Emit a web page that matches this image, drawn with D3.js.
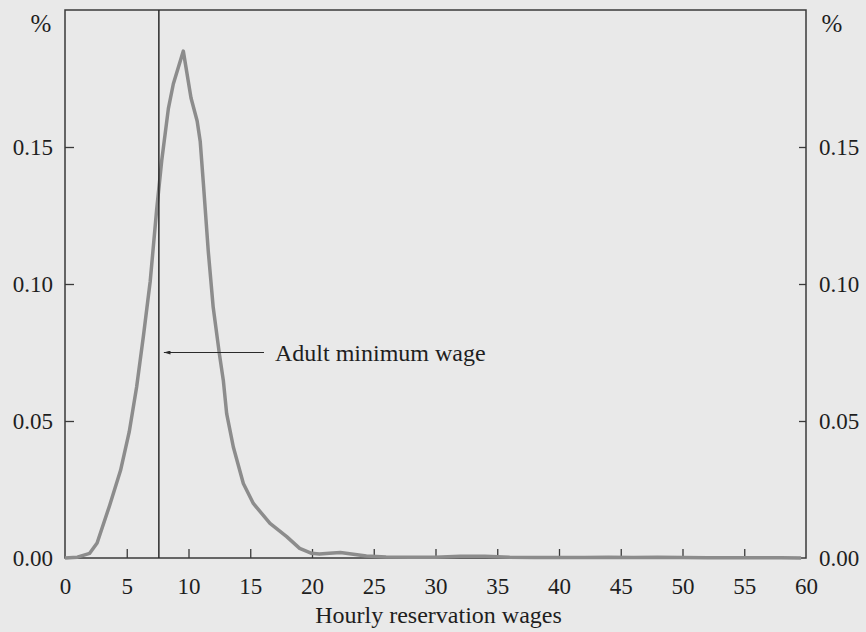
<!DOCTYPE html>
<html>
<head>
<meta charset="utf-8">
<script src="https://cdn.jsdelivr.net/npm/d3@7"></script>
<style>
  body { margin: 0; background: #e9e9e9; }
  svg { display: block; }
  text { font-family: "Liberation Serif", "Times New Roman", serif; fill: #1e1e1e; }
</style>
</head>
<body>
<div id="chart"></div>
<script>
// density of hourly reservation wages
const wage = [0, 1, 2.0, 2.6, 3.6, 4.5, 5.2, 5.8, 6.35, 6.9, 7.42, 7.83, 8.37, 8.77, 9.58, 10.2,
  10.7, 10.95, 11.2, 11.6, 12.0, 12.5, 12.82, 13.09, 13.63, 14.44, 15.25, 16.6, 17.95, 19.0, 19.97,
  20.6, 21.4, 22.3, 23.5, 24.4, 26, 28, 30, 32, 34, 36, 38, 40, 42, 44, 46, 48, 50, 52, 54, 56, 58, 59.6]
const density = [0, 0.0003, 0.0017, 0.0055, 0.019, 0.032, 0.046, 0.0624, 0.081, 0.101, 0.127, 0.145, 0.164, 0.173, 0.185, 0.168,
  0.1595, 0.152, 0.137, 0.112, 0.0915, 0.0745, 0.0648, 0.0527, 0.0405, 0.0272, 0.0199, 0.0126, 0.0078, 0.0035, 0.0017,
  0.0015, 0.0017, 0.002, 0.0013, 0.0007, 0.0004, 0.0003, 0.0003, 0.0006, 0.0006, 0.0003, 0.0002, 0.0002, 0.0002, 0.0003, 0.0002, 0.0003, 0.0002, 0.0001, 0.0001, 0.0001, 0.0001, 0]

const xTicks = [0, 5, 10, 15, 20, 25, 30, 35, 40, 45, 50, 55, 60]
const yTicks = [0, 0.05, 0.10, 0.15]
const minWage = 7.6

const W = 866, H = 632
const M = { top: 10, right: 60, bottom: 74, left: 65 }
const AXIS = "#3a3a3a"
const FONT = "23px"

const svg = d3.select("#chart").append("svg")
  .attr("width", W)
  .attr("height", H)

svg.append("rect")
  .attr("width", W)
  .attr("height", H)
  .attr("fill", "#e9e9e9")

const x = d3.scaleLinear().domain([0, 60]).range([M.left, W - M.right])
const y = d3.scaleLinear().domain([0, 0.2]).range([H - M.bottom, M.top])

// frame
svg.append("rect")
  .attr("x", x(0))
  .attr("y", y(0.2))
  .attr("width", x(60) - x(0))
  .attr("height", y(0) - y(0.2))
  .attr("fill", "none")
  .attr("stroke", AXIS)
  .attr("stroke-width", 1.5)

// axes, ticks pointing inwards
const fmt = d3.format(".2f")
const bottom = svg.append("g")
  .attr("transform", "translate(0," + y(0) + ")")
  .call(d3.axisBottom(x).tickValues(xTicks).tickSizeInner(-9).tickSizeOuter(0).tickPadding(20))
const left = svg.append("g")
  .attr("transform", "translate(" + x(0) + ",0)")
  .call(d3.axisLeft(y).tickValues(yTicks).tickFormat(fmt).tickSizeInner(-9).tickSizeOuter(0).tickPadding(12))
const right = svg.append("g")
  .attr("transform", "translate(" + x(60) + ",0)")
  .call(d3.axisRight(y).tickValues(yTicks).tickFormat(fmt).tickSizeInner(-7).tickSizeOuter(0).tickPadding(13))

;[bottom, left, right].forEach(g => {
  g.select(".domain").remove()
  g.selectAll(".tick line").attr("stroke", AXIS).attr("stroke-width", 1.3)
  g.selectAll(".tick text")
    .style("font-family", '"Liberation Serif", serif')
    .style("font-size", FONT)
    .attr("fill", "#1e1e1e")
})
// the x=0 and x=60 ticks sit on the frame
bottom.selectAll(".tick line").filter(d => d === 0 || d === 60).remove()
left.selectAll(".tick line").filter(d => d === 0).remove()
right.selectAll(".tick line").filter(d => d === 0).remove()

svg.append("text")
  .attr("x", 41)
  .attr("y", 32)
  .attr("text-anchor", "middle")
  .style("font-size", "25px")
  .text("%")
svg.append("text")
  .attr("x", 832)
  .attr("y", 32)
  .attr("text-anchor", "middle")
  .style("font-size", "25px")
  .text("%")

svg.append("text")
  .attr("x", (x(0) + x(60)) / 2 + 3)
  .attr("y", 623)
  .attr("text-anchor", "middle")
  .style("font-size", "24px")
  .text("Hourly reservation wages")

// density curve
const line = d3.line()
  .x((d, i) => x(wage[i]))
  .y(d => y(d))

svg.append("path")
  .datum(density)
  .attr("d", line)
  .attr("fill", "none")
  .attr("stroke", "#8c8c8c")
  .attr("stroke-width", 3.5)
  .attr("stroke-linejoin", "round")

// minimum wage marker
svg.append("line")
  .attr("x1", x(minWage)).attr("x2", x(minWage))
  .attr("y1", y(0.2)).attr("y2", y(0))
  .attr("stroke", "#2a2a2a")
  .attr("stroke-width", 1.5)

const defs = svg.append("defs")
defs.append("marker")
  .attr("id", "arrowHead")
  .attr("viewBox", "0 0 10 6")
  .attr("refX", "0")
  .attr("refY", "3")
  .attr("markerUnits", "userSpaceOnUse")
  .attr("markerWidth", "8")
  .attr("markerHeight", "4")
  .attr("orient", "auto")
  .append("path")
  .attr("d", "M 0 3 L 10 0 L 10 6 z")
  .style("fill", "#2a2a2a")

const arrowY = y(0.075)
svg.append("line")
  .attr("x1", x(minWage) + 5).attr("x2", 264)
  .attr("y1", arrowY).attr("y2", arrowY)
  .attr("stroke", "#2a2a2a")
  .attr("stroke-width", 1)
  .attr("marker-start", "url(#arrowHead)")

svg.append("text")
  .attr("x", 275)
  .attr("y", arrowY + 8)
  .style("font-size", "24px")
  .text("Adult minimum wage")
</script>
</body>
</html>
